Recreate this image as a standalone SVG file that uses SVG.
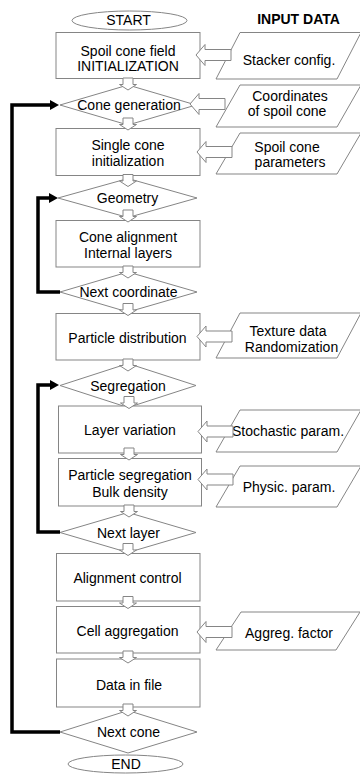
<svg xmlns="http://www.w3.org/2000/svg" xmlns:xlink="http://www.w3.org/1999/xlink" width="360" height="775" viewBox="0 0 360 775">
<style>
.sh{fill:#fff;stroke:#858585;stroke-width:1}
.t{font-family:"Liberation Sans",Arial,sans-serif;font-size:14px;fill:#000;text-anchor:middle}
.b{font-weight:bold}
.fb{fill:none;stroke:#000;stroke-width:3.5;marker-end:url(#ah)}
</style>
<defs>
<marker id="ah" markerUnits="userSpaceOnUse" markerWidth="9" markerHeight="10" refX="0" refY="5" orient="auto">
<path d="M0,0 L9,5 L0,10 Z" fill="#000"/>
</marker>
<path id="dn" class="sh" d="M-5,0 H5 V6.5 H8.5 L0,12 L-8.5,6.5 H-5 Z"/>
<path id="lf" class="sh" d="M0,0 L9,-10.5 V-5.5 H35 V5.5 H9 V10.5 Z"/>
</defs>
<rect width="360" height="775" fill="#fff"/>

<g id="connectors">
<path class="fb" d="M60,732 H12 V105 H50"/>
<path class="fb" d="M60,292 H38 V198 H49"/>
<path class="fb" d="M60,532 H38 V385 H50"/>
</g>

<g id="start"><ellipse class="sh" cx="129.5" cy="20.5" rx="57.5" ry="9.5"/><text class="t" x="128.5" y="25">START</text></g>
<g id="title"><text class="t b" x="298.5" y="24">INPUT DATA</text></g>

<g id="n1"><rect class="sh" x="56" y="32.5" width="144" height="46"/><text class="t" x="128" y="56">Spoil cone field</text><text class="t" x="128" y="70.5">INITIALIZATION</text></g>
<g id="n2"><polygon class="sh" points="60,105 128,85 196,105 128,125"/><text class="t" x="129" y="110">Cone generation</text></g>
<g id="n3"><rect class="sh" x="56" y="128.5" width="144" height="47"/><text class="t" x="128" y="150">Single cone</text><text class="t" x="128" y="165.5">initialization</text></g>
<g id="n4"><polygon class="sh" points="58,198 128,178.5 197,198 128,217.5"/><text class="t" x="127.5" y="203">Geometry</text></g>
<g id="n5"><rect class="sh" x="56" y="220.5" width="144" height="46.5"/><text class="t" x="128" y="241.5">Cone alignment</text><text class="t" x="128" y="258">Internal layers</text></g>
<g id="n6"><polygon class="sh" points="60,292 128,272 197,292 128,312"/><text class="t" x="128.5" y="297">Next coordinate</text></g>
<g id="n7"><rect class="sh" x="56" y="313.5" width="144" height="46.5"/><text class="t" x="127.5" y="343">Particle distribution</text></g>
<g id="n8"><polygon class="sh" points="60,385.5 128,363.5 196,385.5 128,407.5"/><text class="t" x="128" y="390.5">Segregation</text></g>
<g id="n9"><rect class="sh" x="58.5" y="406" width="143" height="47"/><text class="t" x="130" y="435">Layer variation</text></g>
<g id="n10"><rect class="sh" x="58.5" y="458.5" width="143" height="47.5"/><text class="t" x="130" y="480">Particle segregation</text><text class="t" x="130" y="496.5">Bulk density</text></g>
<g id="n11"><polygon class="sh" points="60,532.5 128,512.5 196,532.5 128,552.5"/><text class="t" x="128.5" y="538">Next layer</text></g>
<g id="n12"><rect class="sh" x="56.5" y="553.5" width="143.5" height="47.5"/><text class="t" x="127.5" y="582.5">Alignment control</text></g>
<g id="n13"><rect class="sh" x="56.5" y="606.5" width="143.5" height="46.5"/><text class="t" x="127.5" y="636">Cell aggregation</text></g>
<g id="n14"><rect class="sh" x="56.5" y="659" width="143.5" height="48"/><text class="t" x="129" y="689.5">Data in file</text></g>
<g id="n15"><polygon class="sh" points="60,732 128,710.5 197,732 128,753"/><text class="t" x="128.5" y="736.5">Next cone</text></g>
<g id="end"><ellipse class="sh" cx="125.5" cy="764" rx="57.5" ry="9"/><text class="t" x="126" y="769">END</text></g>

<g id="i1"><polygon class="sh" points="240,32.5 361,32.5 337,79 216,79"/><text class="t" x="289" y="65">Stacker config.</text></g>
<g id="i2"><polygon class="sh" points="240,85 361,85 337,127 216,127"/><text class="t" x="290" y="100.5">Coordinates</text><text class="t" x="287" y="115.5">of spoil cone</text></g>
<g id="i3"><polygon class="sh" points="240,133 361,133 337,174 216,174"/><text class="t" x="287" y="151.5">Spoil cone</text><text class="t" x="290" y="166.5">parameters</text></g>
<g id="i4"><polygon class="sh" points="240,313 361,313 337,358 216,358"/><text class="t" x="288" y="336">Texture data</text><text class="t" x="291.5" y="351.5">Randomization</text></g>
<g id="i5"><polygon class="sh" points="240,410 361,410 337,452 216,452"/><text class="t" x="288" y="436">Stochastic param.</text></g>
<g id="i6"><polygon class="sh" points="240,466 361,466 337,507 216,507"/><text class="t" x="289" y="491.5">Physic. param.</text></g>
<g id="i7"><polygon class="sh" points="241,612 360,612 336,650 216,650"/><text class="t" x="289" y="638">Aggreg. factor</text></g>

<g id="flow-arrows">
<use xlink:href="#dn" x="128" y="78"/>
<use xlink:href="#dn" x="128" y="118"/>
<use xlink:href="#dn" x="128" y="174.5"/>
<use xlink:href="#dn" x="128" y="210"/>
<use xlink:href="#dn" x="128" y="266"/>
<use xlink:href="#dn" x="128" y="303.5"/>
<use xlink:href="#dn" x="128" y="359"/>
<use xlink:href="#dn" x="129" y="396.5"/>
<use xlink:href="#dn" x="129" y="448"/>
<use xlink:href="#dn" x="129" y="505"/>
<use xlink:href="#dn" x="128" y="543.5"/>
<use xlink:href="#dn" x="128" y="596.5"/>
<use xlink:href="#dn" x="128" y="651"/>
<use xlink:href="#dn" x="128" y="704"/>
</g>
<g id="input-arrows">
<use xlink:href="#lf" x="196" y="55"/>
<use xlink:href="#lf" x="190" y="104"/>
<use xlink:href="#lf" x="197" y="152"/>
<use xlink:href="#lf" x="197" y="336.5"/>
<use xlink:href="#lf" x="198" y="431.5"/>
<use xlink:href="#lf" x="198" y="479.5"/>
<use xlink:href="#lf" x="197" y="632"/>
</g>
</svg>
